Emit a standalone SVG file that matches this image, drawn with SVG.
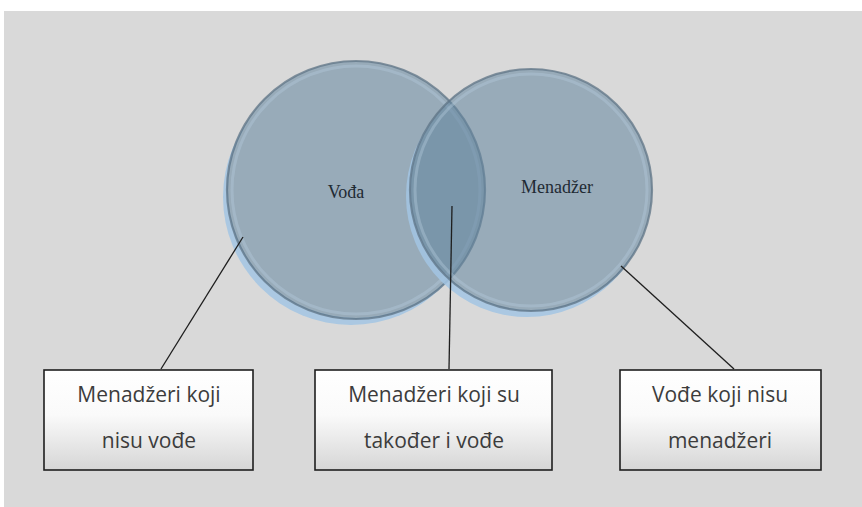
<svg xmlns="http://www.w3.org/2000/svg" width="862" height="507" viewBox="0 0 862 507">
<defs>
<linearGradient id="boxg" x1="0" y1="0" x2="0" y2="1">
<stop offset="0" stop-color="#ffffff"/>
<stop offset="0.45" stop-color="#fafafa"/>
<stop offset="1" stop-color="#d6d6d6"/>
</linearGradient>
<mask id="mL" maskUnits="userSpaceOnUse" x="0" y="0" width="862" height="507">
<rect width="862" height="507" fill="#fff"/>
<circle cx="356" cy="190" r="128" fill="#000"/>
</mask>
<mask id="mR" maskUnits="userSpaceOnUse" x="0" y="0" width="862" height="507">
<rect width="862" height="507" fill="#fff"/>
<circle cx="531" cy="190" r="120" fill="#000"/>
</mask>
</defs>
<style>
.box{fill:url(#boxg);stroke:#1e1e1e;stroke-width:1.6}
.lbl{font-family:"Open Sans","Liberation Sans",sans-serif;font-size:21px;fill:#3c3c3c;text-anchor:middle}
.ctext{font-family:"Liberation Serif",serif;font-size:18px;fill:#1f2a33;text-anchor:middle}
.glow{fill:#a3c6e4;opacity:0.85}
.disc{fill:#63859f;fill-opacity:0.55;stroke:#5f7485;stroke-width:2.2;stroke-opacity:0.75}
.bevel{fill:none;stroke:#b4cadb;stroke-width:3;stroke-opacity:0.4}
.conn{stroke:#1e1e1e;stroke-width:1.3;fill:none}
</style>
<rect x="0" y="0" width="862" height="507" fill="#ffffff"/>
<rect x="4" y="11" width="858" height="496" fill="#d9d9d9"/>
<g id="circle-voda">
<circle class="glow" cx="351" cy="197" r="128" mask="url(#mL)"/>
<circle class="disc" cx="356" cy="190" r="129"/>
<circle class="bevel" cx="356" cy="190" r="124"/>
<text class="ctext" x="346" y="198">Vođa</text>
</g>
<g id="circle-menadzer">
<circle class="glow" cx="527" cy="196" r="121" mask="url(#mR)"/>
<circle class="disc" cx="531" cy="190" r="121"/>
<circle class="bevel" cx="531" cy="190" r="116"/>
<text class="ctext" x="557" y="193">Menadžer</text>
</g>
<g id="connectors">
<line class="conn" x1="243" y1="237" x2="161" y2="369"/>
<line class="conn" x1="452" y1="206" x2="449" y2="369"/>
<line class="conn" x1="621" y1="266" x2="734" y2="369"/>
</g>
<g id="box-left">
<rect class="box" x="44" y="370" width="209" height="100"/>
<text class="lbl" x="149" y="402">Menadžeri koji</text>
<text class="lbl" x="149" y="448">nisu vođe</text>
</g>
<g id="box-middle">
<rect class="box" x="315" y="370" width="237" height="100"/>
<text class="lbl" x="434" y="402">Menadžeri koji su</text>
<text class="lbl" x="434" y="448">također i vođe</text>
</g>
<g id="box-right">
<rect class="box" x="620" y="370" width="201" height="100"/>
<text class="lbl" x="720" y="402">Vođe koji nisu</text>
<text class="lbl" x="720" y="448">menadžeri</text>
</g>
</svg>
